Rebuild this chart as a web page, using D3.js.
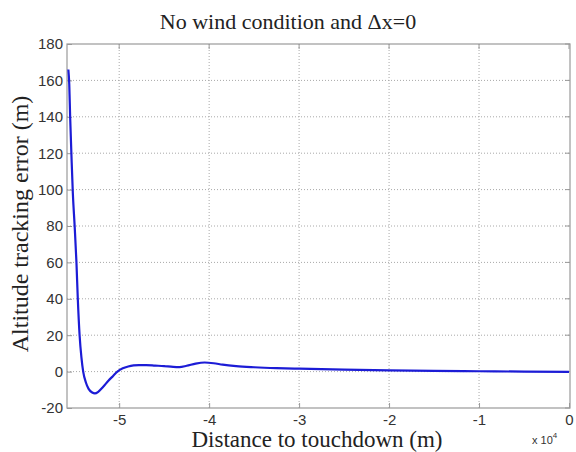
<!DOCTYPE html>
<html>
<head>
<meta charset="utf-8">
<script src="https://cdn.jsdelivr.net/npm/d3@7"></script>
<style>
  body { margin: 0; background: #fff; }
  .tick text { font-family: "Liberation Sans", Arial, sans-serif; font-size: 15px; fill: #333; }
</style>
</head>
<body>
<div id="chart"></div>
<script>

// distance to touchdown (x 10^4 m) and altitude tracking error (m)
const distance = [-5.565, -5.555, -5.545, -5.53, -5.515, -5.495, -5.475, -5.46, -5.44, -5.42, -5.40,
    -5.37, -5.34, -5.30, -5.27, -5.23, -5.18, -5.12, -5.07, -5.02, -4.96, -4.90, -4.84, -4.78,
    -4.70, -4.60, -4.50, -4.40, -4.33, -4.25, -4.15, -4.05, -3.95, -3.85, -3.70, -3.50, -3.25,
    -3.00, -2.50, -2.00, -1.50, -1.00, -0.50, 0.00];
const error = [166, 158, 140, 118, 98, 80, 60, 40, 20, 8, 0,
    -6, -9.5, -11.5, -12, -11, -8.5, -5, -2.5, 0, 1.8, 2.8, 3.4, 3.6,
    3.6, 3.3, 3.0, 2.6, 2.5, 3.2, 4.4, 5.0, 4.6, 3.8, 3.0, 2.4, 1.9,
    1.6, 1.1, 0.7, 0.4, 0.2, 0.0, -0.1];

const xTicks = [-5, -4, -3, -2, -1, 0];
const yTicks = [-20, 0, 20, 40, 60, 80, 100, 120, 140, 160, 180];

const titleText = 'No wind condition and \u0394x=0';
const xLabel = 'Distance to touchdown (m)';
const yLabel = 'Altitude tracking error (m)';

const margin = {top: 44, right: 6, bottom: 44, left: 67};
const width = 576 - margin.left - margin.right;
const height = 452 - margin.top - margin.bottom;

const svg = d3.select('#chart').append('svg')
    .attr('width', 576)
    .attr('height', 452);

const g = svg.append('g')
    .attr('transform', `translate(${margin.left}, ${margin.top})`);

const x = d3.scaleLinear().domain([-5.58, 0]).range([0, width - 1]);
const y = d3.scaleLinear().domain([-20, 180]).range([height, 0]);

// plain hyphen minus like the original
const fmt = d => String(d);

// grid
g.append('g')
    .selectAll('line')
    .data(xTicks.filter(d => d !== 0))
    .join('line')
    .attr('x1', d => x(d)).attr('x2', d => x(d))
    .attr('y1', 0).attr('y2', height)
    .attr('stroke', '#a8a8a8')
    .attr('stroke-width', 1)
    .attr('stroke-dasharray', '1,2');

g.append('g')
    .selectAll('line')
    .data(yTicks.filter(d => d !== -20 && d !== 180))
    .join('line')
    .attr('x1', 0).attr('x2', width)
    .attr('y1', d => y(d)).attr('y2', d => y(d))
    .attr('stroke', '#a8a8a8')
    .attr('stroke-width', 1)
    .attr('stroke-dasharray', '1,2');

// axes
const xAxis = g.append('g')
    .attr('transform', `translate(0, ${height})`)
    .call(d3.axisBottom(x).tickValues(xTicks).tickFormat(fmt).tickSizeInner(-5).tickSizeOuter(0).tickPadding(6));
const yAxis = g.append('g')
    .call(d3.axisLeft(y).tickValues(yTicks).tickFormat(fmt).tickSizeInner(-5).tickSizeOuter(0).tickPadding(4));

[xAxis, yAxis].forEach(a => {
    a.select('.domain').remove();
    a.selectAll('.tick line').attr('stroke', '#999');
});

// box
g.append('rect')
    .attr('x', 0).attr('y', 0)
    .attr('width', width).attr('height', height)
    .attr('fill', 'none')
    .attr('stroke', '#9a9a9a')
    .attr('stroke-width', 1.2);

// top / right inner ticks
g.append('g').selectAll('line')
    .data(xTicks).join('line')
    .attr('x1', d => x(d)).attr('x2', d => x(d))
    .attr('y1', 0).attr('y2', 5)
    .attr('stroke', '#999');
g.append('g').selectAll('line')
    .data(yTicks).join('line')
    .attr('x1', width).attr('x2', width - 5)
    .attr('y1', d => y(d)).attr('y2', d => y(d))
    .attr('stroke', '#999');

// curve
const line = d3.line()
    .x((d, i) => x(distance[i]))
    .y(d => y(d))
    .curve(d3.curveMonotoneX);

g.append('path')
    .datum(error)
    .attr('d', line)
    .attr('fill', 'none')
    .attr('stroke', '#1c1cd6')
    .attr('stroke-width', 2.2);

// texts
svg.append('text')
    .attr('x', 288).attr('y', 29)
    .attr('text-anchor', 'middle')
    .style('font-family', '"Liberation Serif", "Times New Roman", serif')
    .style('font-size', '22px')
    .style('fill', '#222')
    .text(titleText);

svg.append('text')
    .attr('x', 317).attr('y', 447)
    .attr('text-anchor', 'middle')
    .style('font-family', '"Liberation Serif", "Times New Roman", serif')
    .style('font-size', '23px')
    .style('fill', '#222')
    .text(xLabel);

svg.append('text')
    .attr('transform', 'translate(28, 224) rotate(-90)')
    .attr('text-anchor', 'middle')
    .style('font-family', '"Liberation Serif", "Times New Roman", serif')
    .style('font-size', '24px')
    .style('fill', '#222')
    .text(yLabel);

const exp = svg.append('text')
    .attr('x', 532).attr('y', 444)
    .style('font-family', '"Liberation Sans", Arial, sans-serif')
    .style('font-size', '11px')
    .style('fill', '#333');
exp.append('tspan').text('x 10');
exp.append('tspan').attr('dy', -6).style('font-size', '8px').text('4');

</script>
</body>
</html>
